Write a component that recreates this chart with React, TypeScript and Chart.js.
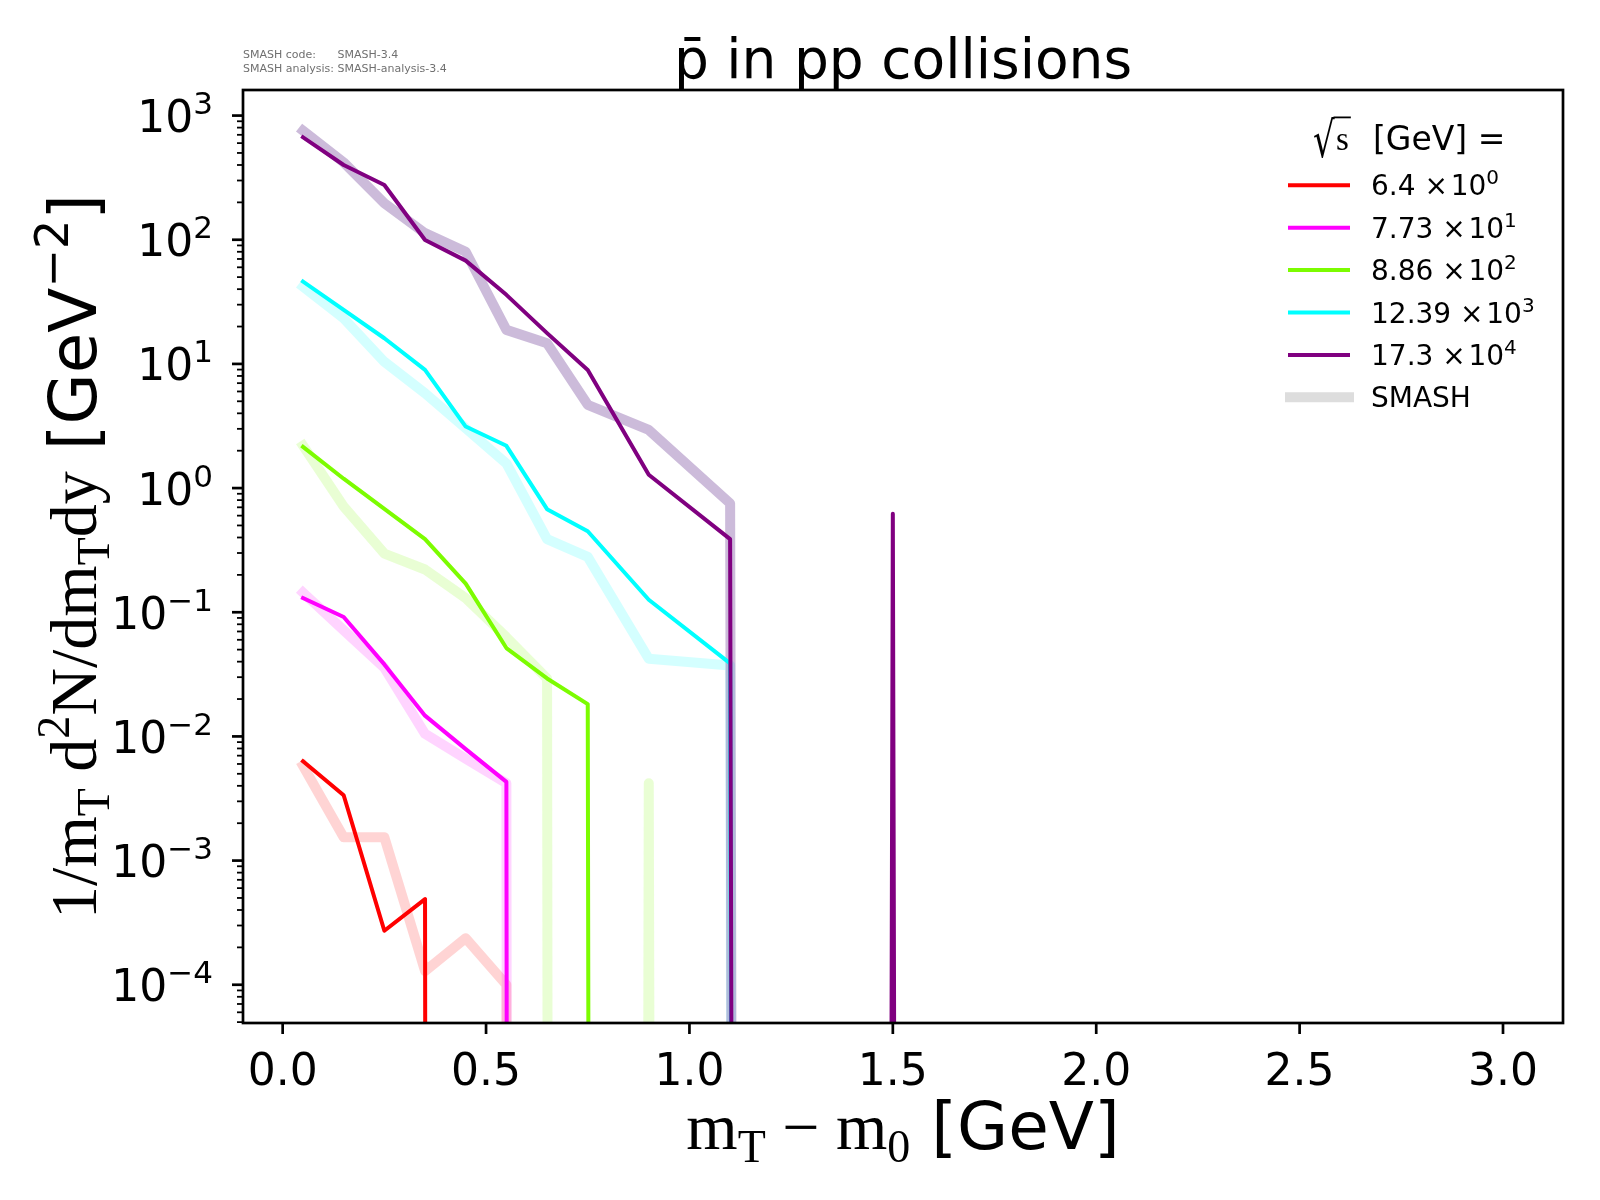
import { useEffect, useRef } from "react";
import Chart from "chart.js/auto";

// bin centres, m_T - m_0 [GeV]
const mtBins = [0.05, 0.15, 0.25, 0.35, 0.45, 0.55, 0.65, 0.75, 0.9, 1.1, 1.3, 1.5, 1.7];

// measured spectra (0 = empty bin), one list per sqrt(s)
const exp6p4 = [6.3e-3, 3.36e-3, 2.72e-4, 4.9e-4, 0, 0, 0, 0, 0, 0, 0, 0, 0];
const exp7p73 = [0.13, 0.0915, 0.038, 0.0147, 7.9e-3, 4.3e-3, 0, 0, 0, 0, 0, 0, 0];
const exp8p86 = [2.15, 1.19, 0.68, 0.388, 0.17, 0.0515, 0.0293, 0.0182, 0, 0, 0, 0, 0];
const exp12p39 = [46, 27.2, 16.1, 8.95, 3.13, 2.19, 0.676, 0.449, 0.126, 0.0387, 0, 0, 0];
const exp17p3 = [668, 400, 276, 99.6, 67.9, 36, 17.7, 8.95, 1.28, 0.388, 0, 0.62, 0];

// SMASH results
const smash6p4 = [5.8e-3, 1.54e-3, 1.54e-3, 1.29e-4, 2.37e-4, 1.0e-4, 0, 0, 0, 0, 0, 0, 0];
const smash7p73 = [0.144, 0.0716, 0.0357, 0.0105, 6.6e-3, 4.2e-3, 0, 0, 0, 0, 0, 0, 0];
const smash8p86 = [2.2, 0.71, 0.297, 0.221, 0.13, 0.063, 0.0293, 0, 4.2e-3, 0, 0, 0, 0];
const smash12p39 = [41.9, 23.3, 10.4, 5.8, 3.03, 1.58, 0.388, 0.279, 0.0422, 0.0372, 0, 0, 0];
const smash17p3 = [755, 420, 197, 113, 80, 18.8, 14.7, 4.68, 2.94, 0.753, 0, 0, 0];

const energyMantissa = ["6.4", "7.73", "8.86", "12.39", "17.3"];
const energyExponent = ["0", "1", "2", "3", "4"];
const lineColors = ["#ff0000", "#ff00ff", "#7cfc00", "#00ffff", "#800080"];
const smashColors = [
  "rgba(255, 0, 0, 0.17)",
  "rgba(255, 0, 255, 0.17)",
  "rgba(124, 252, 0, 0.17)",
  "rgba(0, 255, 255, 0.17)",
  "rgba(110, 60, 150, 0.35)",
];

const xTicks = [0, 0.5, 1, 1.5, 2, 2.5, 3];
const yDecades = [-4, -3, -2, -1, 0, 1, 2, 3];

const SANS = '"DejaVu Sans"';
const SERIF = '"Liberation Serif"';
const sans = (s: number) => `${s}px ${SANS}`;
const serif = (s: number) => `${s}px ${SERIF}`;

// empty bins are sent far below the axis like matplotlib does on a log scale
const EMPTY = 1e-300;
const toPoints = (ys: number[]) => mtBins.map((x, i) => ({ x, y: ys[i] > 0 ? ys[i] : EMPTY }));

type Run = { t: string; f: string; dy?: number };

function runsWidth(ctx: CanvasRenderingContext2D, runs: Run[]) {
  let w = 0;
  for (const r of runs) {
    ctx.font = r.f;
    w += ctx.measureText(r.t).width;
  }
  return w;
}

function drawRuns(ctx: CanvasRenderingContext2D, runs: Run[], x: number, y: number) {
  for (const r of runs) {
    ctx.font = r.f;
    ctx.fillText(r.t, x, y + (r.dy || 0));
    x += ctx.measureText(r.t).width;
  }
  return x;
}

const mplAxes = {
  id: "mplAxes",
  afterDraw(chart: any) {
    const { ctx, chartArea: a, scales } = chart;
    const xs = scales.x;
    const ys = scales.y;
    ctx.save();
    ctx.fillStyle = "#000";
    ctx.strokeStyle = "#000";
    ctx.textAlign = "left";
    ctx.textBaseline = "alphabetic";

    // frame
    ctx.lineWidth = 2.7;
    ctx.strokeRect(a.left, a.top, a.right - a.left, a.bottom - a.top);

    // y ticks (log, with minors)
    for (let d = -5; d <= 3; d++) {
      for (let m = 1; m < 10; m++) {
        const v = m * Math.pow(10, d);
        if (v < ys.min || v > ys.max) continue;
        const py = ys.getPixelForValue(v);
        ctx.beginPath();
        ctx.lineWidth = m === 1 ? 2.7 : 1.8;
        ctx.moveTo(a.left - (m === 1 ? 11 : 6), py);
        ctx.lineTo(a.left, py);
        ctx.stroke();
      }
    }
    for (const d of yDecades) {
      const py = ys.getPixelForValue(Math.pow(10, d));
      const base = py + 16.5;
      const sup = d < 0 ? "\u2212" + Math.abs(d) : String(d);
      const runs: Run[] = [
        { t: "10", f: sans(44) },
        { t: sup, f: sans(31), dy: -18 },
      ];
      const w = runsWidth(ctx, runs);
      drawRuns(ctx, runs, 213 - w, base);
    }

    // x ticks
    ctx.textAlign = "center";
    ctx.font = sans(44);
    for (const t of xTicks) {
      const px = xs.getPixelForValue(t);
      ctx.beginPath();
      ctx.lineWidth = 2.7;
      ctx.moveTo(px, a.bottom);
      ctx.lineTo(px, a.bottom + 11);
      ctx.stroke();
      ctx.fillText(t.toFixed(1), px, 1085);
    }
    ctx.textAlign = "left";

    // x label
    const xl: Run[] = [
      { t: "m", f: serif(66) },
      { t: "T", f: serif(46), dy: 13 },
      { t: " \u2212 ", f: serif(66) },
      { t: "m", f: serif(66) },
      { t: "0", f: serif(46), dy: 13 },
      { t: " [GeV]", f: sans(66) },
    ];
    const cx = (a.left + a.right) / 2;
    drawRuns(ctx, xl, cx - runsWidth(ctx, xl) / 2, 1149);

    // y label
    const yl: Run[] = [
      { t: "1/m", f: serif(66) },
      { t: "T", f: serif(46), dy: 13 },
      { t: " d", f: serif(66) },
      { t: "2", f: serif(46), dy: -27 },
      { t: "N/dm", f: serif(66) },
      { t: "T", f: serif(46), dy: 13 },
      { t: "dy", f: serif(66) },
      { t: " [GeV", f: sans(66) },
      { t: "\u22122", f: sans(46), dy: -28 },
      { t: "]", f: sans(66) },
    ];
    ctx.save();
    ctx.translate(96, (a.top + a.bottom) / 2);
    ctx.rotate(-Math.PI / 2);
    drawRuns(ctx, yl, -runsWidth(ctx, yl) / 2, 0);
    ctx.restore();

    // title
    ctx.textAlign = "center";
    ctx.font = sans(55);
    ctx.fillText("p\u0304 in pp collisions", cx, 78);
    ctx.textAlign = "left";

    // version stamp
    ctx.fillStyle = "#707070";
    ctx.font = sans(11);
    const tab = ctx.measureText("SMASH analysis: ").width;
    ctx.fillText("SMASH code:", 243, 58);
    ctx.fillText("SMASH-3.4", 243 + tab, 58);
    ctx.fillText("SMASH analysis: SMASH-analysis-3.4", 243, 72);
    ctx.fillStyle = "#000";

    // legend title: sqrt(s) [GeV] =
    const hdrBase = 150;
    const sqX = 1313;
    ctx.font = sans(34);
    const sq = ctx.measureText("\u221a");
    ctx.save();
    ctx.translate(sqX, hdrBase + 7);
    ctx.scale(1, 1.45);
    ctx.fillText("\u221a", 0, 0);
    ctx.restore();
    const barY = hdrBase + 7 - sq.actualBoundingBoxAscent * 1.45 + 1;
    const sX = sqX + sq.actualBoundingBoxRight + 1;
    ctx.font = serif(33);
    ctx.fillText("s", sX, hdrBase);
    const sEnd = sX + ctx.measureText("s").width + 2;
    ctx.lineWidth = 1.8;
    ctx.beginPath();
    ctx.moveTo(sqX + sq.actualBoundingBoxRight - 1.5, barY);
    ctx.lineTo(sEnd, barY);
    ctx.stroke();
    ctx.font = sans(33);
    ctx.fillText("[GeV] =", 1373, hdrBase);

    const rowY0 = 185.3;
    const rowStep = 42.4;
    for (let i = 0; i < energyMantissa.length; i++) {
      const y = rowY0 + i * rowStep;
      ctx.strokeStyle = lineColors[i];
      ctx.lineWidth = 4;
      ctx.lineCap = "butt";
      ctx.beginPath();
      ctx.moveTo(1288, y);
      ctx.lineTo(1350, y);
      ctx.stroke();
      drawRuns(
        ctx,
        [
          { t: energyMantissa[i] + " \u00d7", f: sans(28) },
          { t: "\u200a10", f: sans(28) },
          { t: energyExponent[i], f: sans(20), dy: -11 },
        ],
        1371,
        y + 10
      );
    }
    const ySm = rowY0 + 5 * rowStep;
    ctx.strokeStyle = "#dddddd";
    ctx.lineWidth = 10;
    ctx.beginPath();
    ctx.moveTo(1285, ySm);
    ctx.lineTo(1354, ySm);
    ctx.stroke();
    ctx.font = sans(28);
    ctx.fillText("SMASH", 1371, ySm + 10);

    ctx.restore();
  },
};

export default function App() {
  const canvasRef = useRef<HTMLCanvasElement>(null);
  const chartRef = useRef<Chart | null>(null);

  useEffect(() => {
    if (!canvasRef.current) return;
    if (chartRef.current) chartRef.current.destroy();

    const expSets = [exp6p4, exp7p73, exp8p86, exp12p39, exp17p3];
    const smashSets = [smash6p4, smash7p73, smash8p86, smash12p39, smash17p3];

    // Chart.js paints the first dataset last, so the highest energy goes first
    // (drawn on top) and the SMASH bands go after the measurements (underneath)
    const datasets: any[] = [];
    for (let i = expSets.length - 1; i >= 0; i--) {
      datasets.push({
        label: energyMantissa[i],
        data: toPoints(expSets[i]),
        borderColor: lineColors[i],
        borderWidth: 4,
        borderJoinStyle: "round",
        borderCapStyle: "square",
        pointRadius: 0,
        tension: 0,
        clip: 0,
      });
    }
    for (let i = smashSets.length - 1; i >= 0; i--) {
      datasets.push({
        label: "SMASH " + energyMantissa[i],
        data: toPoints(smashSets[i]),
        borderColor: smashColors[i],
        borderWidth: 10,
        borderJoinStyle: "round",
        borderCapStyle: "square",
        pointRadius: 0,
        tension: 0,
        clip: 0,
      });
    }

    chartRef.current = new Chart(canvasRef.current, {
      type: "line",
      data: { datasets },
      options: {
        responsive: false,
        maintainAspectRatio: false,
        animation: false,
        events: [],
        layout: { padding: { left: 243, right: 37, top: 90, bottom: 177 } },
        scales: {
          x: { type: "linear", min: -0.0975, max: 3.1475, display: false },
          y: { type: "logarithmic", min: 4.92e-5, max: 1607, display: false },
        },
        plugins: {
          legend: { display: false },
          title: { display: false },
          tooltip: { enabled: false },
        },
      },
      plugins: [mplAxes],
    });

    return () => {
      if (chartRef.current) {
        chartRef.current.destroy();
        chartRef.current = null;
      }
    };
  }, []);

  return (
    <div style={{ position: "absolute", left: 0, top: 0, width: 1600, height: 1200, background: "#fff" }}>
      <canvas ref={canvasRef} width={1600} height={1200} style={{ width: 1600, height: 1200, display: "block" }} />
    </div>
  );
}
